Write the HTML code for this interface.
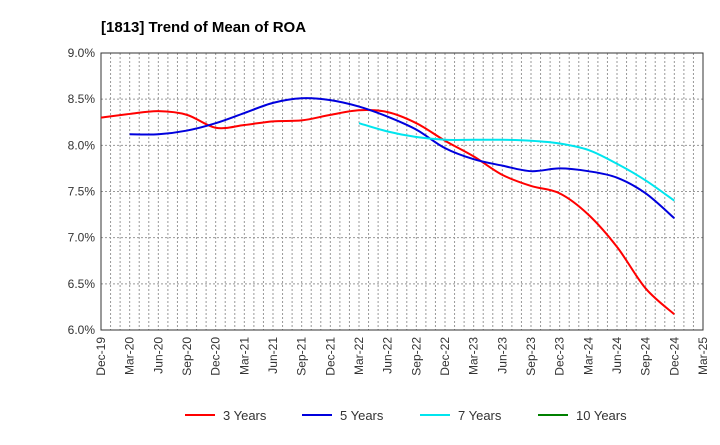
<!DOCTYPE html>
<html><head><meta charset="utf-8"><style>
body{margin:0;background:#fff;font-family:"Liberation Sans",sans-serif}
</style></head><body>
<svg id="c" width="720" height="440" xmlns="http://www.w3.org/2000/svg">
<text x="101" y="32" font-size="15" font-weight="bold" fill="#000">[1813]  Trend of Mean of ROA</text>
<g id="grid"></g><g id="axes"></g><g id="series"></g><g id="legend"></g>
</svg>
<script>
const xLabels=["Dec-19","Mar-20","Jun-20","Sep-20","Dec-20","Mar-21","Jun-21","Sep-21","Dec-21","Mar-22","Jun-22","Sep-22","Dec-22","Mar-23","Jun-23","Sep-23","Dec-23","Mar-24","Jun-24","Sep-24","Dec-24","Mar-25"];
const yTicks=[6.0,6.5,7.0,7.5,8.0,8.5,9.0];
const s3=[8.30,8.34,8.37,8.33,8.19,8.22,8.26,8.27,8.33,8.38,8.36,8.24,8.05,7.88,7.68,7.56,7.48,7.25,6.90,6.45,6.17];
const s3Start=0;
const s5=[8.12,8.12,8.16,8.24,8.35,8.46,8.51,8.49,8.42,8.31,8.17,7.97,7.85,7.78,7.72,7.75,7.72,7.65,7.48,7.21];
const s5Start=1;
const s7=[8.24,8.15,8.09,8.06,8.06,8.06,8.05,8.02,7.95,7.80,7.62,7.40];
const s7Start=9;
const s10=[];
const s10Start=0;
const L=101,R=703,T=53,B=330;
const xs=i=>L+(R-L)*i/(xLabels.length-1);
const ys=v=>B-(v-6)/3*(B-T);
const NS="http://www.w3.org/2000/svg";
function mk(tag,attrs,parent){const e=document.createElementNS(NS,tag);for(const k in attrs)e.setAttribute(k,attrs[k]);parent.appendChild(e);return e;}
const grid=document.getElementById('grid'),axes=document.getElementById('axes'),ser=document.getElementById('series'),leg=document.getElementById('legend');
for(let m=1;m<(xLabels.length-1)*3;m++){const x=L+(R-L)*m/((xLabels.length-1)*3);
const g=mk('line',{x1:x,x2:x,y1:T,y2:B,stroke:'#999','stroke-dasharray':'2,2','stroke-width':1},grid);

}
yTicks.forEach(v=>{const y=ys(v);
const g=mk('line',{x1:L,x2:R,y1:y,y2:y,stroke:'#999','stroke-dasharray':'2,2','stroke-width':1},grid);


const t=mk('text',{x:L-6,y:y+4,'text-anchor':'end','font-size':12,fill:'#333'},axes);t.textContent=v.toFixed(1)+'%';

});
xLabels.forEach((l,i)=>{const x=xs(i);
const t=mk('text',{transform:`translate(${x+4},${B+7}) rotate(-90)`,'text-anchor':'end','font-size':12,fill:'#333'},axes);t.textContent=l;

});
const fr=mk('rect',{x:L,y:T,width:R-L,height:B-T,fill:'none',stroke:'#333','stroke-width':1},axes);


function path(vals,start,color,name){if(!vals.length)return;const p=vals.map((v,i)=>[xs(start+i),ys(v)]);
let d=`M${p[0][0]},${p[0][1]}`;
for(let i=0;i<p.length-1;i++){const p0=p[i-1]||p[i],p1=p[i],p2=p[i+1],p3=p[i+2]||p2;
d+=` C${p1[0]+(p2[0]-p0[0])/6},${p1[1]+(p2[1]-p0[1])/6} ${p2[0]-(p3[0]-p1[0])/6},${p2[1]-(p3[1]-p1[1])/6} ${p2[0]},${p2[1]}`;}
const e=mk('path',{d,fill:'none',stroke:color,'stroke-width':2},ser);

}
path(s3,s3Start,'#ff0000','line-3-years');
path(s5,s5Start,'#0000dd','line-5-years');
path(s7,s7Start,'#00e5ee','line-7-years');
path(s10,s10Start,'#008000','line-10-years');
[['3 Years','#ff0000',185],['5 Years','#0000dd',302],['7 Years','#00e5ee',420],['10 Years','#008000',538]].forEach(([n,c,x])=>{
const g=mk('g',{},leg);


mk('line',{x1:x,x2:x+30,y1:415,y2:415,stroke:c,'stroke-width':2},g);
const t=mk('text',{x:x+38,y:420,'font-size':13,fill:'#333'},g);t.textContent=n;});
</script>
</body></html>
